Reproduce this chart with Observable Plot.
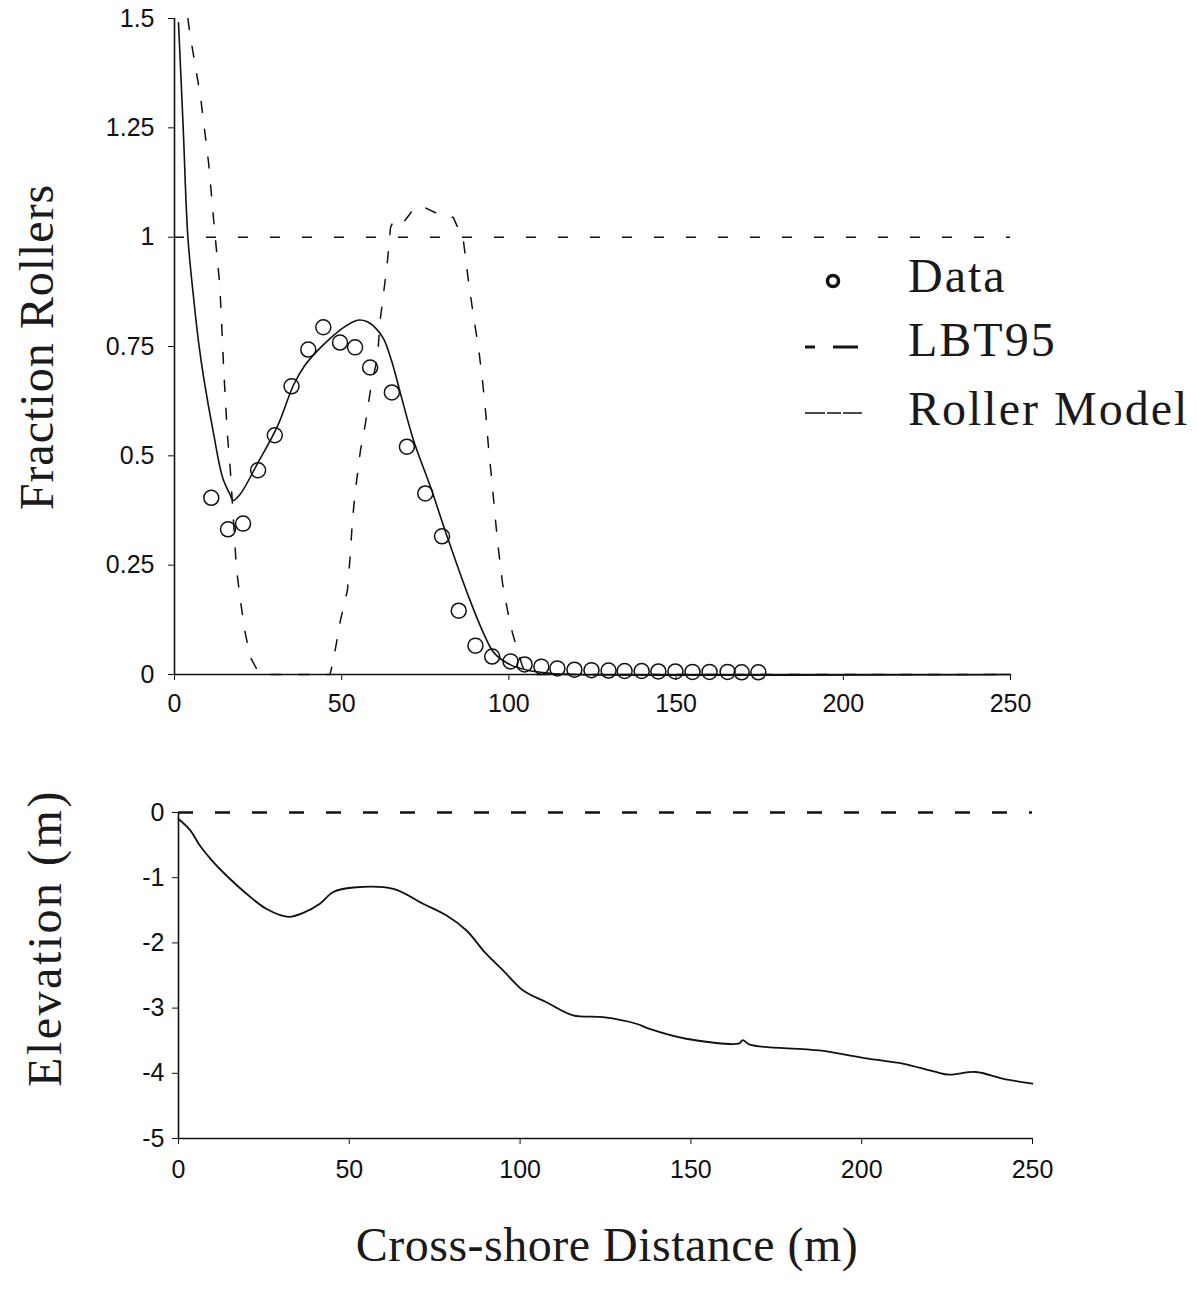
<!DOCTYPE html>
<html>
<head>
<meta charset="utf-8">
<script src="https://cdn.jsdelivr.net/npm/d3@7"></script>
<script src="https://cdn.jsdelivr.net/npm/@observablehq/plot@0.6"></script>
<style>
  html, body { margin: 0; padding: 0; background: #fff; }
  #fig { position: relative; width: 1197px; height: 1291px; background: #fff; }
  #topPanel, #bottomPanel { position: absolute; left: 0; }
  #topPanel { top: 0; }
  #bottomPanel { top: 740px; }
  #overlay { position: absolute; left: 0; top: 0; pointer-events: none; }
  .ttl { font-family: "Liberation Serif", serif; fill: #1a1a1a; }
</style>
</head>
<body>
<div id="fig">
  <div id="topPanel"></div>
  <div id="bottomPanel"></div>
</div>
<script>
// ---------- data ----------
const xTicks = [0, 50, 100, 150, 200, 250];
const fracTicks = [0, 0.25, 0.5, 0.75, 1, 1.25, 1.5];
const elevTicks = [0, -1, -2, -3, -4, -5];

const dataX = [11, 16, 20.5, 25, 30, 35, 40, 44.5, 49.5, 54, 58.5, 65, 69.5, 75, 80, 85, 90, 95,
  100.5, 104.7, 109.7, 114.5, 119.6, 124.7, 129.8, 134.6, 139.7, 144.7, 149.8, 154.9, 160, 165.4, 169.6, 174.6];
const dataY = [0.404, 0.332, 0.345, 0.467, 0.547, 0.659, 0.743, 0.794, 0.759, 0.748, 0.702, 0.645, 0.521, 0.414, 0.316, 0.146, 0.066, 0.041,
  0.030, 0.023, 0.018, 0.014, 0.011, 0.010, 0.009, 0.008, 0.008, 0.007, 0.007, 0.006, 0.006, 0.006, 0.005, 0.005];

const rollerX = [1.2, 2.6, 4.0, 5.8, 7.2, 8.7, 11.7, 14.4, 16.7, 17.5, 19.7, 24.8, 30.8, 35.6, 38.8, 42.7, 46.5, 50.5, 54.7, 57.5, 60, 62.5, 65, 67.5, 71.5, 76.6, 81.6, 87.6, 92.5, 95.5, 100.5, 106, 112, 120, 250];
const rollerY = [1.49, 1.25, 1.0, 0.855, 0.76, 0.68, 0.55, 0.45, 0.41, 0.398, 0.413, 0.482, 0.568, 0.662, 0.705, 0.74, 0.768, 0.793, 0.81, 0.807, 0.793, 0.768, 0.715, 0.645, 0.535, 0.428, 0.314, 0.185, 0.093, 0.05, 0.022, 0.009, 0.003, 0, 0];

const lbtX = [4.0, 4.5, 7.8, 10.2, 12, 13.5, 14.0, 14.7, 15.8, 16.7, 18.5, 19.7, 21.2, 22.7, 24.8, 26, 46.5, 47.5, 49.6, 51.7, 52.6, 53.2, 54.1, 55.6, 57.1, 58.6, 60.7, 61.5, 62.5, 63.7, 64.6, 65.5, 68.2, 71.2, 73.6, 78.6, 83.4, 86.4, 87.9, 89.4, 90.9, 92.1, 93, 93.9, 95.1, 96, 96.9, 98.1, 99.6, 101.1, 102.6, 104, 105.5, 250];
const lbtY = [1.5, 1.47, 1.32, 1.17, 1.015, 0.894, 0.82, 0.70, 0.55, 0.467, 0.245, 0.169, 0.093, 0.039, 0.01, 0, 0, 0.032, 0.123, 0.192, 0.277, 0.352, 0.421, 0.512, 0.574, 0.65, 0.725, 0.81, 0.87, 0.947, 1.022, 1.038, 1.031, 1.061, 1.072, 1.054, 1.045, 0.992, 0.9, 0.82, 0.748, 0.672, 0.604, 0.519, 0.428, 0.352, 0.284, 0.208, 0.146, 0.094, 0.055, 0.02, 0, 0];

const fracRef = [1];     // dashed reference level in top panel
const seaLevel = [0];    // dashed still-water level in bottom panel

const profX = [0, 3.4, 6.3, 10.2, 14.1, 20, 25.8, 32.2, 36.5, 41.4, 45.3, 51.2, 62.9, 71.6, 78.5, 84.3, 90.1, 95, 100.9, 107.7, 115.5, 124.3, 134, 137.9, 148.6, 164.2, 165.2, 167.2, 187.6, 202.3, 212, 221.7, 225.6, 233.4, 241.2, 250];
const profY = [-0.1, -0.27, -0.51, -0.76, -0.97, -1.25, -1.48, -1.60, -1.54, -1.40, -1.22, -1.15, -1.17, -1.40, -1.58, -1.81, -2.17, -2.42, -2.73, -2.91, -3.11, -3.14, -3.24, -3.32, -3.47, -3.54, -3.49, -3.56, -3.65, -3.78, -3.85, -3.98, -4.02, -3.98, -4.08, -4.16];

const legendLabels = ["Data", "LBT95", "Roller Model"];
const xTitle = "Cross-shore Distance (m)";
const topYTitle = "Fraction Rollers";
const botYTitle = "Elevation (m)";

// ---------- tables ----------
const dataPts = dataX.map((x, i) => ({x, y: dataY[i]}));
const roller = rollerX.map((x, i) => ({x, y: rollerY[i]}));
const lbt = lbtX.map((x, i) => ({x, y: lbtY[i]}));
const prof = profX.map((x, i) => ({x, y: profY[i]}));

const ink = "#111";
const tickFont = "Liberation Sans, Arial, sans-serif";

// ---------- top panel ----------
const topChart = Plot.plot({
  width: 1197, height: 740,
  marginLeft: 174, marginRight: 187, marginTop: 18, marginBottom: 66,
  x: {domain: [0, 250]},
  y: {domain: [0, 1.5]},
  style: {fontFamily: tickFont, fontSize: "25px", color: ink, background: "white", overflow: "visible"},
  marks: [
    Plot.axisX({ticks: xTicks, tickSize: 6, tickPadding: 14, label: null, tickFormat: d => String(d), fontSize: 25}),
    Plot.axisY({ticks: fracTicks, tickSize: 6, tickPadding: 14, label: null, tickFormat: d => String(d), fontSize: 25}),
    Plot.ruleX([0], {stroke: ink, strokeWidth: 1.6}),
    Plot.ruleY([0], {stroke: ink, strokeWidth: 1.6}),
    Plot.ruleY(fracRef, {stroke: ink, strokeWidth: 1.5, strokeDasharray: "10,22"}),
    Plot.line(lbt, {x: "x", y: "y", stroke: ink, strokeWidth: 1.5, strokeDasharray: "11,17", curve: "linear"}),
    Plot.line(roller, {x: "x", y: "y", stroke: ink, strokeWidth: 1.6, curve: "catmull-rom"}),
    Plot.dot(dataPts, {x: "x", y: "y", r: 7.5, stroke: ink, strokeWidth: 1.5, fill: "none"})
  ]
});
document.getElementById("topPanel").appendChild(topChart);

// ---------- bottom panel ----------
const bottomChart = Plot.plot({
  width: 1197, height: 450,
  marginLeft: 178, marginRight: 165, marginTop: 72, marginBottom: 52,
  x: {domain: [0, 250]},
  y: {domain: [-5, 0]},
  style: {fontFamily: tickFont, fontSize: "25px", color: ink, background: "white", overflow: "visible"},
  marks: [
    Plot.axisX({ticks: xTicks, tickSize: 6, tickPadding: 16, label: null, tickFormat: d => String(d), fontSize: 25}),
    Plot.axisY({ticks: elevTicks, tickSize: 6, tickPadding: 8, label: null, tickFormat: d => String(d), fontSize: 25}),
    Plot.ruleX([0], {stroke: ink, strokeWidth: 1.6}),
    Plot.ruleY([-5], {stroke: ink, strokeWidth: 1.6}),
    Plot.ruleY(seaLevel, {stroke: ink, strokeWidth: 2.6, strokeDasharray: "15,22"}),
    Plot.line(prof, {x: "x", y: "y", stroke: ink, strokeWidth: 1.8, curve: "catmull-rom"})
  ]
});
document.getElementById("bottomPanel").appendChild(bottomChart);

// ---------- titles & legend overlay ----------
const ns = "http://www.w3.org/2000/svg";
const ov = document.createElementNS(ns, "svg");
ov.setAttribute("id", "overlay");
ov.setAttribute("width", 1197);
ov.setAttribute("height", 1291);
document.getElementById("fig").appendChild(ov);
function el(tag, attrs, text) {
  const e = document.createElementNS(ns, tag);
  for (const k in attrs) e.setAttribute(k, attrs[k]);
  if (text != null) e.textContent = text;
  ov.appendChild(e);
  return e;
}
el("text", {class: "ttl", x: 0, y: 0, "font-size": 48, "letter-spacing": 1, "text-anchor": "middle",
  transform: "translate(53,347) rotate(-90)"}, topYTitle);
el("text", {class: "ttl", x: 0, y: 0, "font-size": 48, "letter-spacing": 2.5, "text-anchor": "middle",
  transform: "translate(61,938) rotate(-90)"}, botYTitle);
el("text", {class: "ttl", x: 607, y: 1261, "font-size": 48, "letter-spacing": 0.5, "text-anchor": "middle"}, xTitle);

// legend
el("circle", {cx: 833, cy: 281, r: 5.5, fill: "none", stroke: ink, "stroke-width": 3.5});
el("line", {x1: 805, x2: 815, y1: 347, y2: 347, stroke: ink, "stroke-width": 3});
el("line", {x1: 833, x2: 858, y1: 347, y2: 347, stroke: ink, "stroke-width": 3});
el("line", {x1: 805, x2: 862, y1: 413, y2: 413, stroke: ink, "stroke-width": 1.5, "stroke-dasharray": "20,2,14,2"});
const baselines = [292, 356, 425];
legendLabels.forEach((t, i) => el("text", {class: "ttl", x: 908, y: baselines[i], "font-size": 48, "letter-spacing": 2}, t));
</script>
</body>
</html>
